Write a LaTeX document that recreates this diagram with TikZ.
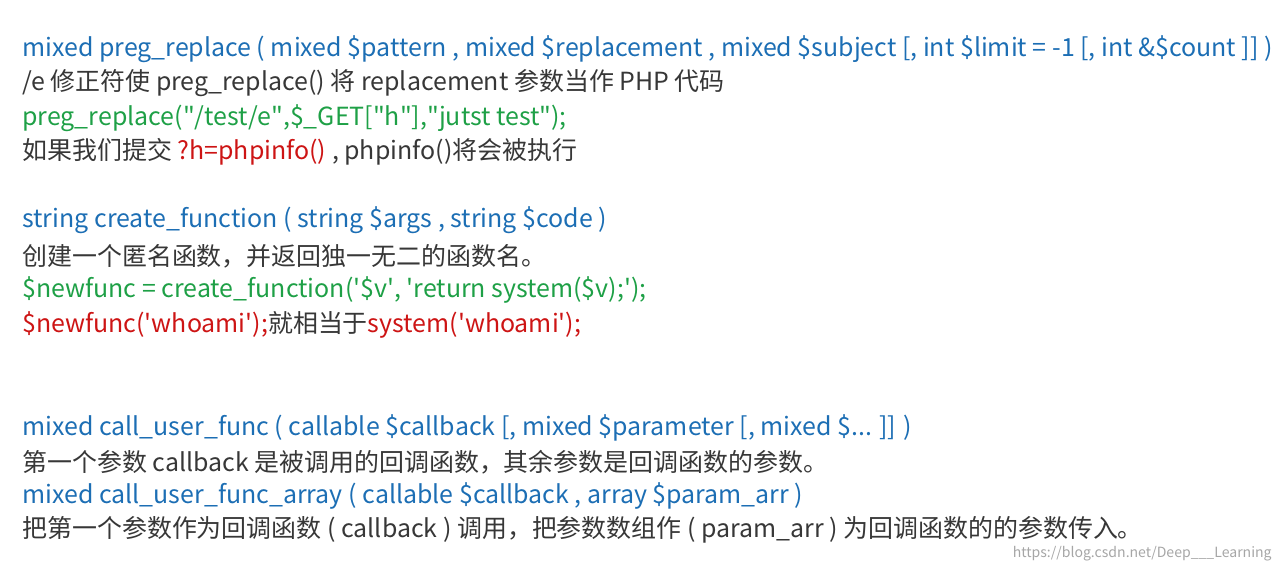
\documentclass[tikz,border=0pt]{standalone}
\usepackage{fontspec}
\setmainfont{Noto Sans CJK SC}
\usepackage{tikz}
\definecolor{fnblue}{RGB}{28,110,180}
\definecolor{codegreen}{RGB}{30,160,70}
\definecolor{hotred}{RGB}{205,20,20}
\definecolor{bodygray}{RGB}{55,55,55}
\tikzset{line/.style={anchor=west,inner sep=0pt,font=\fontsize{14.2pt}{16pt}\selectfont}}
\newcommand{\rd}[1]{\textcolor{hotred}{#1}}
\newcommand{\dq}{\textquotedbl}
\newcommand{\sq}{\textquotesingle}
\begin{document}
\begin{tikzpicture}[x=0.02cm,y=-0.02cm]
\useasboundingbox (0,0) rectangle (1281,573);
\node[line,fnblue] (proto1) at (22,49) {mixed preg\_replace ( mixed \$pattern , mixed \$replacement , mixed \$subject [, int \$limit = -1 [, int \&\$count ]] )};
\node[line,bodygray] (desc1) at (22,83) {/e 修正符使 preg\_replace() 将 replacement 参数当作 PHP 代码};
\node[line,codegreen] (code1) at (22,118) {preg\_replace(\dq/test/e\dq,\$\_GET[\dq h\dq],\dq jutst test\dq);};
\node[line,bodygray] (note1) at (22,152) {如果我们提交 \rd{?h=phpinfo()} , phpinfo()将会被执行};
\node[line,fnblue] (proto2) at (22,220) {string create\_function ( string \$args , string \$code )};
\node[line,bodygray] (desc2) at (22,256) {创建一个匿名函数，并返回独一无二的函数名。};
\node[line,codegreen] (code2) at (22,290) {\$newfunc = create\_function(\sq\$v\sq, \sq return system(\$v);\sq);};
\node[line,bodygray] (note2) at (22,325) {\rd{\$newfunc(\sq whoami\sq);}就相当于\rd{system(\sq whoami\sq);}};
\node[line,fnblue] (proto3) at (22,428) {mixed call\_user\_func ( callable \$callback [, mixed \$parameter [, mixed \$... ]] )};
\node[line,bodygray] (desc3) at (22,462) {第一个参数 callback 是被调用的回调函数，其余参数是回调函数的参数。};
\node[line,fnblue] (proto4) at (22,496) {mixed call\_user\_func\_array ( callable \$callback , array \$param\_arr )};
\node[line,bodygray] (desc4) at (22,530) {把第一个参数作为回调函数 ( callback ) 调用，把参数数组作 ( param\_arr ) 为回调函数的的参数传入。};
\node[anchor=east,inner sep=0pt,text=black!35,font=\fontsize{8pt}{9pt}\selectfont] (mark) at (1272,554) {https://blog.csdn.net/Deep\_\_\_Learning};
\end{tikzpicture}
\end{document}
